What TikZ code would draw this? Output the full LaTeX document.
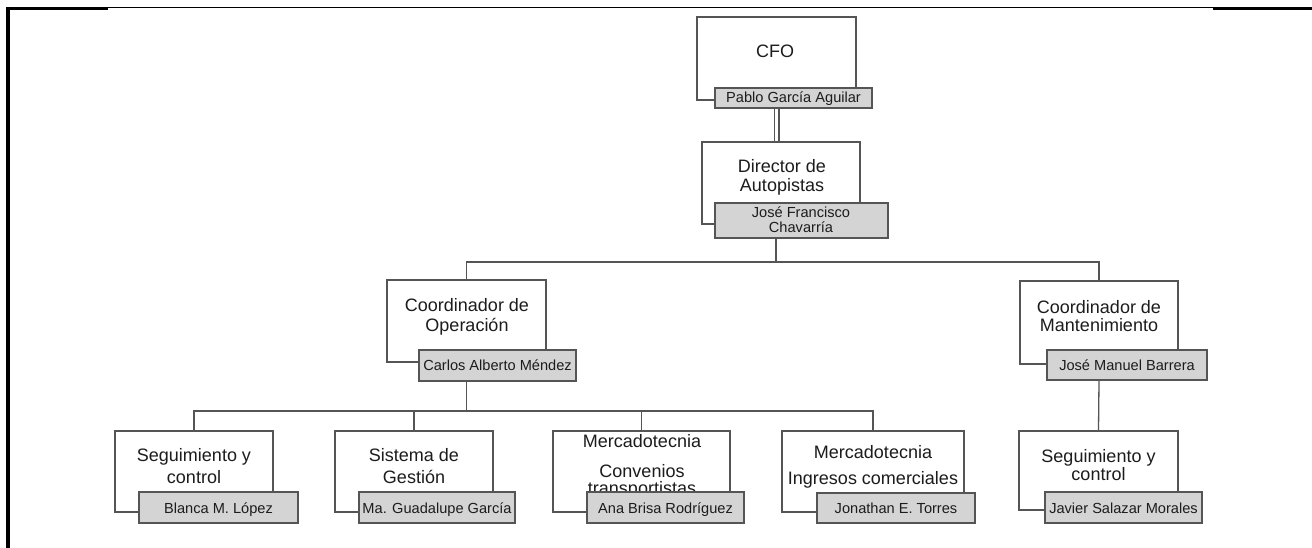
\documentclass[tikz,border=0pt]{standalone}
\usepackage{fontspec}
\setmainfont{Liberation Sans}
\definecolor{linegray}{RGB}{85,85,85}
\definecolor{namefill}{RGB}{212,212,212}
\definecolor{textgray}{RGB}{28,28,28}
% box given by left, top, right, bottom
\newcommand\orgbox[6]{\node[#6, minimum width={#4-#2}, minimum height={#5-#3}] (#1) at ({(#2+#4)/2},{(#3+#5)/2}) {};}
\begin{document}
\begin{tikzpicture}[x=1pt,y=-1pt,
  unitbox/.style={draw=linegray, line width=1.3pt, fill=white, inner sep=0pt},
  namebox/.style={draw=linegray, line width=1.3pt, fill=namefill, inner sep=0pt},
  ttl/.style={anchor=base, inner sep=0pt, text=textgray, font=\fontsize{18}{20}\selectfont},
  nm/.style={anchor=base, inner sep=0pt, text=textgray, font=\fontsize{14.6}{16}\selectfont},
  link/.style={draw=linegray, line width=1.3pt}]
\useasboundingbox (0,0) rectangle (1312,548);

% page frame
\fill[black] (6,6.7) rectangle (108,10.2);
\draw[black, line width=1.2pt] (108,7.3) -- (1213,7.3);
\fill[black] (1213,6.7) rectangle (1312,10.2);
\fill[black] (6,6.7) rectangle (9.5,548);

% ---- CFO ----
\orgbox{cfo}{697}{17}{856}{100}{unitbox}
\node[ttl] (cfoT) at (775,58) {CFO};
\orgbox{cfoN}{715}{88}{872}{108}{namebox}
\node[nm] (cfoNT) at (793.5,103) {Pablo García Aguilar};

% ---- Director ----
\orgbox{dir}{702}{142}{860}{224}{unitbox}
\node[ttl] (dirT1) at (782,173) {Director de};
\node[ttl] (dirT2) at (782,192) {Autopistas};
\orgbox{dirN}{715}{203}{888}{238}{namebox}
\node[nm] (dirNT1) at (801,218) {José Francisco};
\node[nm] (dirNT2) at (801,232.5) {Chavarría};

% ---- Coordinador de Operación ----
\orgbox{op}{387}{280}{546}{362}{unitbox}
\node[ttl] (opT1) at (467,311) {Coordinador de};
\node[ttl] (opT2) at (467,331) {Operación};
\orgbox{opN}{419}{350}{576}{381}{namebox}
\node[nm] (opNT) at (497.5,370.5) {Carlos Alberto Méndez};

% ---- Coordinador de Mantenimiento ----
\orgbox{mant}{1020}{281}{1178}{364}{unitbox}
\node[ttl] (mantT1) at (1099,313) {Coordinador de};
\node[ttl] (mantT2) at (1099,331) {Mantenimiento};
\orgbox{mantN}{1047}{350}{1207}{380}{namebox}
\node[nm] (mantNT) at (1127,370.5) {José Manuel Barrera};

% ---- bottom row ----
\orgbox{sc}{115}{431}{273}{512}{unitbox}
\node[ttl] (scT1) at (194,461) {Seguimiento y};
\node[ttl] (scT2) at (194,483) {control};
\orgbox{scN}{139}{492}{298}{523}{namebox}
\node[nm] (scNT) at (218.5,513) {Blanca M. López};

\orgbox{sg}{335}{431}{493}{512}{unitbox}
\node[ttl] (sgT1) at (414,461) {Sistema de};
\node[ttl] (sgT2) at (414,483) {Gestión};
\orgbox{sgN}{359}{492}{515}{523}{namebox}
\node[nm] (sgNT) at (437,513) {Ma. Guadalupe García};

\orgbox{mc}{553}{431}{730}{512}{unitbox}
\node[ttl] (mcT1) at (642,447) {Mercadotecnia};
\node[ttl] (mcT2) at (642,477) {Convenios};
\node[ttl] (mcT3) at (642,494) {transportistas};
\orgbox{mcN}{587}{492}{744}{523}{namebox}
\node[nm] (mcNT) at (665.5,513) {Ana Brisa Rodríguez};

\orgbox{mi}{782}{431}{964}{512}{unitbox}
\node[ttl] (miT1) at (873,458) {Mercadotecnia};
\node[ttl] (miT2) at (873,484) {Ingresos comerciales};
\orgbox{miN}{817}{493}{975}{523}{namebox}
\node[nm] (miNT) at (896,513) {Jonathan E. Torres};

\orgbox{ms}{1019}{431}{1178}{510}{unitbox}
\node[ttl] (msT1) at (1098.5,462) {Seguimiento y};
\node[ttl] (msT2) at (1098.5,480) {control};
\orgbox{msN}{1045}{492}{1202}{523}{namebox}
\node[nm] (msNT) at (1123.5,513) {Javier Salazar Morales};

% ---- connectors ----
\draw[link, line width=1.2pt, double=white, double distance=3.6pt]
  (cfoN.south -| cfo.north) -- (dir.north -| cfo.north);
\coordinate (busA) at (776,262);
\draw[link] (dirN.south -| busA) -- (busA);
\draw[link] (op.north) -- (op.north |- busA) -- (mant.north |- busA) -- (mant.north);
\coordinate (busB) at (466.5,411);
\draw[link] (opN.south -| op.north) -- (busB);
\draw[link] (sc.north) -- (sc.north |- busB) -- (mi.north |- busB) -- (mi.north);
\draw[link] (sg.north |- busB) -- (sg.north);
\draw[link] (mc.north |- busB) -- (mc.north);
\draw[link] (mantN.south -| mant.north) -- (ms.north);
\end{tikzpicture}
\end{document}
